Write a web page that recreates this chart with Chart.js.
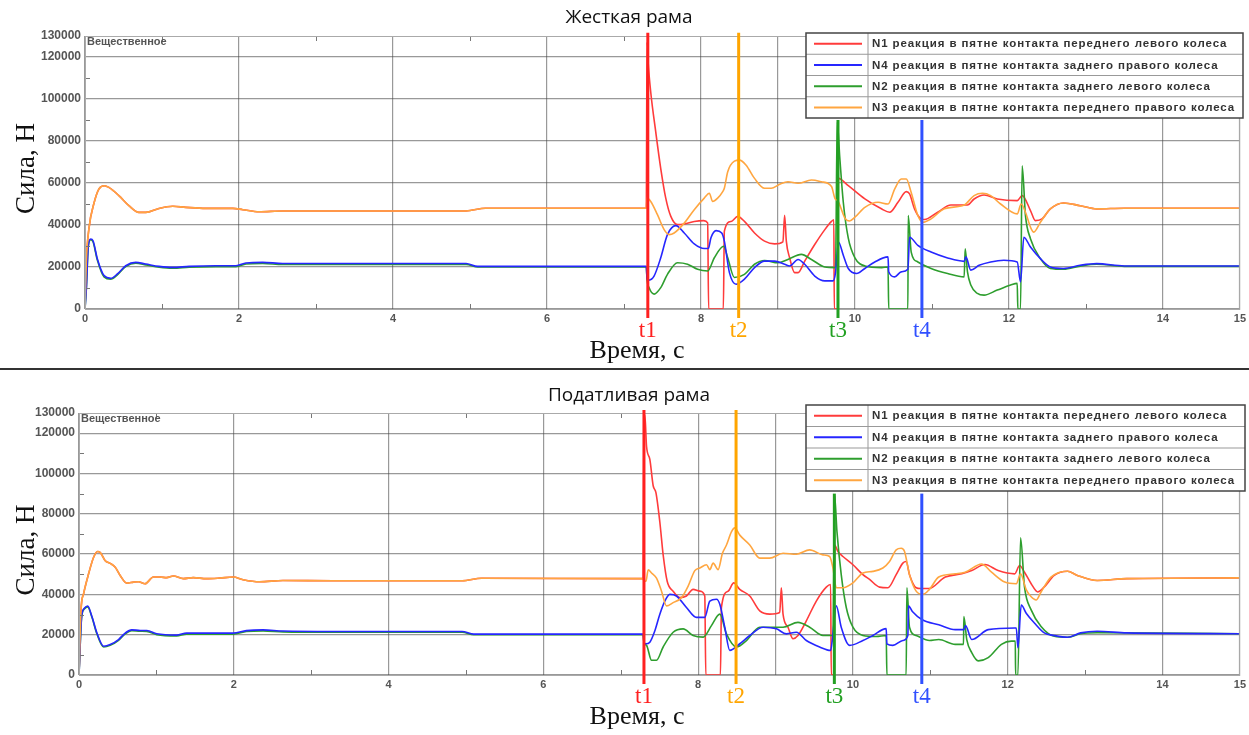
<!DOCTYPE html>
<html>
<head>
<meta charset="utf-8">
<script src="https://cdn.jsdelivr.net/npm/chart.js@4.4.1/dist/chart.umd.min.js"></script>
<style>
  body { margin: 0; background: #fff; width: 1249px; height: 735px; overflow: hidden; position: relative; }
  .box { position: absolute; left: 0; width: 1249px; }
  #sep { position: absolute; left: 0; top: 368px; width: 1249px; height: 2px; background: #333; }
</style>
</head>
<body>
<div class="box" style="top:0;height:368px"><canvas id="rigid" width="1249" height="368"></canvas></div>
<div id="sep"></div>
<div class="box" style="top:371px;height:364px"><canvas id="soft" width="1249" height="364"></canvas></div>
<script>
// legend texts and colours
var seriesNames = [
  'N1 реакция в пятне контакта переднего левого колеса',
  'N4 реакция в пятне контакта заднего правого колеса',
  'N2 реакция в пятне контакта заднего левого колеса',
  'N3 реакция в пятне контакта переднего правого колеса'
];
var seriesColors = ['#ff3b3b', '#2626ff', '#2e9e2e', '#ffa640'];

var xTicks = [0, 2, 4, 6, 8, 9, 10, 12, 14, 15];
var yTicks = [0, 20000, 40000, 60000, 80000, 100000, 120000, 130000];

var markerLabels = ['t1', 't2', 't3', 't4'];
var markerColors = ['#ff2020', '#ffa500', '#22a022', '#3050ff'];
var rigidMarkers = [7.31, 8.49, 9.78, 10.87];
var softMarkers = [7.30, 8.49, 9.76, 10.89];
var markerTops = [131500, 131500, 90000, 90000];

// ---- Жесткая рама: [время, сила] ----
var rigidFrontStart = [[0,0],[0.017,22200],[0.05,38000],[0.12,50800],[0.18,57100],[0.25,58700],[0.31,57900],[0.44,54000],[0.57,49200],[0.70,46000],[0.79,46000],[0.96,47900],[1.14,48900],[1.31,48400],[1.57,47900],[1.92,47900],[2.05,47300],[2.26,46300],[2.57,46700],[3.22,46700],[4.95,46700],[5.2,48000],[7.29,48000]];
var rigidRearStart = [[0,0],[0.017,9500],[0.043,30200],[0.074,33300],[0.104,32500],[0.161,23800],[0.247,15900],[0.334,14600],[0.421,16700],[0.529,20600],[0.659,22200],[0.790,21400],[0.963,20300],[1.137,19800],[1.354,20300],[1.701,20600],[1.961,20600],[2.091,21900],[2.308,22200],[2.568,21700],[4.95,21700],[5.1,20300],[7.29,20300]];
var rigidRearStartN2 = [[0,0],[0.017,9300],[0.043,29800],[0.074,33000],[0.104,32000],[0.161,23200],[0.247,15300],[0.334,14200],[0.421,16300],[0.529,20200],[0.659,21800],[0.790,21000],[0.963,19900],[1.137,19400],[1.354,19900],[1.701,20200],[1.961,20200],[2.091,21400],[2.308,21700],[2.568,21200],[4.95,21200],[5.1,20000],[7.29,20000]];

var rigidN1 = rigidFrontStart.concat([[7.30,127000],[7.313,118000],[7.348,103200],[7.413,84300],[7.478,66900],[7.543,52800],[7.609,44100],[7.696,40200],[7.783,40500],[7.913,41700],[8.035,42100],[8.087,41000],[8.10,0],[8.291,0],[8.304,37000],[8.391,41700],[8.478,44100],[8.565,41700],[8.696,36200],[8.826,32300],[8.957,31000],[9.065,32000],[9.087,44600],[9.109,32300],[9.152,24400],[9.217,17300],[9.261,17300],[9.348,22800],[9.478,30700],[9.609,37800],[9.696,41700],[9.726,42500],[9.732,0],[9.778,0],[9.785,62200],[9.914,58700],[10.129,52400],[10.344,47700],[10.452,46100],[10.559,50800],[10.667,55900],[10.710,54800],[10.774,47700],[10.860,42900],[10.903,42600],[11.075,46100],[11.247,49500],[11.462,49500],[11.548,52400],[11.677,54300],[11.849,52400],[12.108,51600],[12.172,54000],[12.280,46900],[12.344,42100],[12.430,42900],[12.538,47700],[12.710,50500],[12.925,49200],[13.140,47700],[13.5,48000],[15,48000]]);
var rigidN4 = rigidRearStart.concat([[7.30,14500],[7.313,13700],[7.391,15700],[7.478,24400],[7.565,35400],[7.674,39700],[7.783,36200],[7.913,31000],[8.043,28800],[8.096,28800],[8.130,33900],[8.196,37300],[8.270,36200],[8.304,32300],[8.370,17300],[8.457,11800],[8.565,14200],[8.696,19700],[8.826,22800],[8.957,22800],[9.087,21300],[9.152,20500],[9.261,23600],[9.348,21300],[9.478,15700],[9.609,13400],[9.717,13400],[9.748,17300],[9.785,31900],[9.849,25600],[9.914,19300],[10.022,16900],[10.129,19300],[10.258,22400],[10.430,24800],[10.439,17700],[10.516,15300],[10.602,17700],[10.688,18900],[10.710,34200],[10.817,30300],[10.989,27100],[11.204,24300],[11.419,22700],[11.441,24800],[11.505,18500],[11.613,20800],[11.763,22400],[11.935,23200],[12.108,22400],[12.151,12900],[12.194,34200],[12.280,29500],[12.409,24000],[12.538,20000],[12.710,19300],[12.925,20800],[13.140,21600],[13.5,20500],[15,20500]]);
var rigidN2 = rigidRearStartN2.concat([[7.30,14000],[7.326,10200],[7.391,7100],[7.478,10200],[7.565,16500],[7.696,22000],[7.826,21300],[7.957,18900],[8.087,18100],[8.174,24400],[8.296,29900],[8.348,24400],[8.435,15000],[8.565,16500],[8.696,21300],[8.826,23100],[9.0,22000],[9.130,23600],[9.304,26000],[9.435,23600],[9.609,20000],[9.748,19700],[9.770,89000],[9.804,71700],[9.848,51200],[9.913,33900],[10.0,24400],[10.130,20500],[10.348,19700],[10.430,20000],[10.439,0],[10.688,0],[10.692,44500],[10.731,27100],[10.817,22400],[10.989,19300],[11.204,16900],[11.419,15300],[11.432,28700],[11.462,17700],[11.505,11400],[11.591,7400],[11.677,6600],[11.849,9000],[12.022,11400],[12.108,12200],[12.116,0],[12.151,0],[12.172,68200],[12.215,44500],[12.280,33500],[12.409,24000],[12.538,19300],[12.710,18900],[12.925,20400],[13.140,21300],[13.5,20300],[15,20300]]);
var rigidN3 = rigidFrontStart.concat([[7.30,52800],[7.348,51200],[7.435,44900],[7.522,37800],[7.587,35400],[7.652,36200],[7.783,40900],[7.913,47300],[8.043,52800],[8.109,55100],[8.152,51200],[8.217,52800],[8.283,55900],[8.304,57500],[8.348,65400],[8.435,70400],[8.500,70900],[8.587,68500],[8.696,62200],[8.826,57500],[8.913,57500],[9.022,59400],[9.130,60600],[9.261,59900],[9.435,61400],[9.565,60600],[9.696,58300],[9.739,52800],[9.783,51200],[9.870,43300],[9.930,41900],[10.0,43700],[10.129,48400],[10.301,50800],[10.430,50000],[10.516,57100],[10.602,61900],[10.667,61900],[10.731,55500],[10.817,44500],[10.882,41300],[10.989,42900],[11.161,47700],[11.419,49500],[11.548,54000],[11.656,55100],[11.763,54000],[11.892,50000],[12.108,45300],[12.159,50000],[12.215,46100],[12.280,39000],[12.323,36600],[12.409,41300],[12.538,47700],[12.710,50500],[12.925,49200],[13.140,47700],[13.5,48000],[15,48000]]);

// ---- Податливая рама ----
var softFrontStart = [[0,0],[0.026,32200],[0.060,40400],[0.124,50200],[0.189,58400],[0.240,61300],[0.275,60800],[0.339,56700],[0.403,55400],[0.468,53500],[0.532,49400],[0.618,45600],[0.704,46100],[0.768,46300],[0.854,45300],[0.961,48600],[1.047,48600],[1.133,48300],[1.219,49100],[1.348,47800],[1.476,48300],[1.648,47800],[1.820,48100],[1.991,48600],[2.120,47300],[2.335,46300],[2.635,46900],[3.279,46800],[4.95,46800],[5.2,48000],[7.29,47800]];
var softRearStart = [[0,0],[0.034,29000],[0.069,33100],[0.112,34200],[0.167,29000],[0.232,20800],[0.318,14300],[0.403,15100],[0.511,17600],[0.597,20800],[0.682,22400],[0.790,22100],[0.876,22100],[1.004,20500],[1.262,19800],[1.391,20800],[1.991,20800],[2.163,22000],[2.378,22400],[2.635,21800],[3.279,21600],[4.95,21600],[5.1,20300],[7.29,20300]];
var softRearStartN2 = [[0,0],[0.034,28600],[0.069,32700],[0.112,33800],[0.167,28600],[0.232,20300],[0.318,13900],[0.403,14700],[0.511,17200],[0.597,20400],[0.682,22000],[0.790,21700],[0.876,21600],[1.004,20000],[1.262,19400],[1.391,20300],[1.991,20300],[2.163,21600],[2.378,21900],[2.635,21400],[3.279,21200],[4.95,21200],[5.1,20000],[7.29,20000]];

var softN1 = softFrontStart.concat([[7.30,127000],[7.312,129000],[7.333,113500],[7.376,107000],[7.419,93900],[7.454,90600],[7.505,75900],[7.548,59600],[7.600,46500],[7.677,41600],[7.763,38400],[7.849,39200],[7.935,42500],[8.022,41600],[8.086,39200],[8.099,0],[8.288,0],[8.301,33500],[8.387,41600],[8.460,45700],[8.538,42500],[8.667,39200],[8.796,31800],[8.925,30200],[9.054,31000],[9.075,43300],[9.097,30200],[9.161,23700],[9.226,18000],[9.290,19600],[9.398,26900],[9.527,36700],[9.656,43600],[9.712,44900],[9.720,0],[9.751,0],[9.763,64500],[9.806,61300],[9.871,58800],[10.0,54700],[10.129,49800],[10.215,47400],[10.344,43600],[10.452,43300],[10.559,49800],[10.645,55500],[10.688,56300],[10.731,49800],[10.817,43300],[10.874,42900],[10.981,42900],[11.194,48600],[11.407,50200],[11.535,51800],[11.706,54800],[11.876,51800],[12.090,50200],[12.154,54300],[12.217,51000],[12.303,45300],[12.388,41200],[12.473,43700],[12.601,49400],[12.772,51500],[12.900,49400],[13.156,46900],[13.539,47800],[15,48200]]);
var softN4 = softRearStart.concat([[7.30,16000],[7.325,15500],[7.376,16300],[7.441,22000],[7.505,30200],[7.570,36700],[7.634,40000],[7.720,39200],[7.849,33500],[7.978,28600],[8.086,28600],[8.151,36700],[8.237,37600],[8.280,35100],[8.344,23700],[8.409,12200],[8.538,15500],[8.667,19600],[8.839,23700],[9.011,22900],[9.140,20400],[9.269,21200],[9.398,17100],[9.570,13900],[9.712,12200],[9.733,17100],[9.785,34300],[9.849,23700],[9.957,14700],[10.129,17100],[10.258,19600],[10.430,23000],[10.439,15500],[10.516,14700],[10.645,17100],[10.710,19600],[10.718,34300],[10.768,31500],[10.896,27400],[11.109,24900],[11.322,22500],[11.433,22500],[11.455,24500],[11.535,17600],[11.748,22500],[12.090,23300],[12.111,23300],[12.132,13500],[12.175,34700],[12.239,30600],[12.345,25800],[12.473,20900],[12.601,19600],[12.772,18700],[12.942,20900],[13.156,21700],[13.539,20900],[15,20500]]);
var softN2 = softRearStartN2.concat([[7.30,16000],[7.333,14700],[7.398,7300],[7.462,7300],[7.548,13900],[7.677,21200],[7.806,22900],[7.935,19600],[8.065,18800],[8.172,24500],[8.280,30200],[8.366,20400],[8.495,13900],[8.624,17100],[8.796,23700],[8.925,23700],[9.097,23700],[9.290,26100],[9.441,23700],[9.613,19600],[9.742,19600],[9.763,89000],[9.794,71000],[9.849,49800],[9.914,33500],[10.0,23700],[10.129,19600],[10.301,19100],[10.430,19600],[10.439,0],[10.688,0],[10.697,43300],[10.731,23700],[10.817,19600],[10.989,17100],[11.109,17600],[11.322,15200],[11.429,15200],[11.433,29000],[11.471,17600],[11.535,11100],[11.620,7000],[11.748,8600],[11.919,15200],[12.047,16800],[12.098,16800],[12.102,0],[12.132,0],[12.166,68100],[12.217,43700],[12.303,32300],[12.431,24100],[12.601,19200],[12.772,18700],[12.942,20500],[13.156,21000],[15,20500]]);
var softN3 = softFrontStart.concat([[7.30,46500],[7.325,46500],[7.355,52200],[7.398,50600],[7.462,48100],[7.527,41600],[7.591,34300],[7.677,35900],[7.785,38400],[7.871,44100],[7.957,51800],[8.022,53100],[8.108,54700],[8.151,52300],[8.194,55500],[8.258,52300],[8.314,60400],[8.366,64500],[8.430,71000],[8.473,73000],[8.538,69400],[8.667,64500],[8.796,58000],[8.925,58000],[9.097,60400],[9.269,59900],[9.441,62100],[9.613,59600],[9.699,58800],[9.742,53100],[9.785,43300],[9.871,43300],[10.0,45700],[10.129,50600],[10.258,51400],[10.387,53100],[10.473,56300],[10.559,62100],[10.624,62900],[10.667,61300],[10.731,49800],[10.817,41600],[10.903,40000],[10.989,42500],[11.109,48600],[11.322,50200],[11.450,51000],[11.663,55100],[11.791,51000],[11.962,46100],[12.111,45300],[12.166,50200],[12.239,42400],[12.303,38800],[12.367,37200],[12.431,41200],[12.559,48600],[12.772,51500],[12.900,49400],[13.156,46900],[13.539,47800],[15,48200]]);

function toPoints(arr) {
  return arr.map(function (p) { return { x: p[0], y: p[1] }; });
}

// everything that is not a line: titles, legend, markers, minor ticks
var overlay = {
  id: 'overlay',
  afterDatasetsDraw: function (chart, args, o) {
    var ctx = chart.ctx, xs = chart.scales.x, ys = chart.scales.y, a = chart.chartArea;
    ctx.save();
    // minor ticks
    ctx.strokeStyle = '#777';
    ctx.lineWidth = 1;
    [1, 3, 5, 7, 11, 13].forEach(function (t) {
      var px = Math.round(xs.getPixelForValue(t)) + 0.5;
      ctx.beginPath();
      ctx.moveTo(px, a.bottom); ctx.lineTo(px, a.bottom - 5);
      ctx.moveTo(px, a.top); ctx.lineTo(px, a.top + 5);
      ctx.stroke();
    });
    [10000, 30000, 50000, 70000, 90000, 110000].forEach(function (v) {
      var py = Math.round(ys.getPixelForValue(v)) + 0.5;
      ctx.beginPath();
      ctx.moveTo(a.left, py); ctx.lineTo(a.left + 5, py);
      ctx.stroke();
    });
    // frame
    ctx.strokeStyle = '#aaa';
    ctx.strokeRect(a.left + 0.5, a.top + 0.5, a.right - a.left - 1, a.bottom - a.top);

    // event markers
    o.markers.forEach(function (t, i) {
      var px = xs.getPixelForValue(t);
      ctx.strokeStyle = markerColors[i];
      ctx.lineWidth = 3;
      ctx.beginPath();
      ctx.moveTo(px, ys.getPixelForValue(markerTops[i]));
      ctx.lineTo(px, a.bottom + 9);
      ctx.stroke();
      ctx.fillStyle = markerColors[i];
      ctx.font = '23px "Liberation Serif"';
      ctx.textAlign = 'center';
      ctx.textBaseline = 'middle';
      ctx.fillText(markerLabels[i], px, a.bottom + 22);
    });
    ctx.restore();
  },
  afterDraw: function (chart, args, o) {
    var ctx = chart.ctx, a = chart.chartArea;
    ctx.save();
    ctx.fillStyle = '#111';
    ctx.textAlign = 'center';
    ctx.textBaseline = 'middle';
    ctx.font = '19px "Open Sans"';
    ctx.fillText(o.title, 629, o.titleY);

    ctx.font = '26px "Liberation Serif"';
    ctx.fillText('Время, с', 637, a.bottom + 42);

    ctx.save();
    ctx.translate(27, (a.top + a.bottom) / 2 + o.yTitleShift);
    ctx.rotate(-Math.PI / 2);
    ctx.font = '27px "Liberation Serif"';
    ctx.fillText('Сила, Н', 0, 0);
    ctx.restore();

    ctx.textAlign = 'left';
    ctx.fillStyle = '#555';
    ctx.font = 'bold 11px "Liberation Sans"';
    ctx.fillText('Вещественное', a.left + 2, a.top + 6);

    // legend box
    var L = o.legend, rowH = (L.bottom - L.top) / 4;
    ctx.fillStyle = '#fff';
    ctx.fillRect(L.left, L.top, L.right - L.left, L.bottom - L.top);
    ctx.strokeStyle = '#999';
    ctx.lineWidth = 1;
    for (var r = 1; r < 4; r++) {
      ctx.beginPath();
      ctx.moveTo(L.left, L.top + r * rowH);
      ctx.lineTo(L.right, L.top + r * rowH);
      ctx.stroke();
    }
    ctx.beginPath();
    ctx.moveTo(L.left + 62, L.top);
    ctx.lineTo(L.left + 62, L.bottom);
    ctx.stroke();
    ctx.strokeStyle = '#444';
    ctx.lineWidth = 1.5;
    ctx.strokeRect(L.left, L.top, L.right - L.left, L.bottom - L.top);
    ctx.font = 'bold 11.5px "Liberation Sans"';
    if ('letterSpacing' in ctx) ctx.letterSpacing = '0.9px';
    for (var i = 0; i < 4; i++) {
      var cy = L.top + (i + 0.5) * rowH;
      ctx.strokeStyle = seriesColors[i];
      ctx.lineWidth = 2;
      ctx.beginPath();
      ctx.moveTo(L.left + 8, cy);
      ctx.lineTo(L.left + 56, cy);
      ctx.stroke();
      ctx.fillStyle = '#333';
      ctx.fillText(seriesNames[i], L.left + 66, cy + 0.5);
    }
    ctx.restore();
  }
};

function makeChart(id, series, cfg) {
  var canvas = document.getElementById(id);
  var W = canvas.width, H = canvas.height;
  var order = [3, 1, 2, 0];
  var datasets = series.map(function (s, i) {
    return {
      label: seriesNames[i],
      data: toPoints(s),
      borderColor: seriesColors[i],
      borderWidth: 1.6,
      pointRadius: 0,
      cubicInterpolationMode: 'monotone',
      order: order[i]
    };
  });
  return new Chart(canvas, {
    type: 'line',
    data: { datasets: datasets },
    options: {
      responsive: false,
      animation: false,
      layout: { padding: { left: 0, top: cfg.plot.top, right: W - cfg.plot.right, bottom: 0 } },
      plugins: {
        legend: { display: false },
        tooltip: { enabled: false },
        overlay: { title: cfg.title, titleY: cfg.titleY, legend: cfg.legend, markers: cfg.markers, yTitleShift: cfg.yTitleShift }
      },
      scales: {
        x: {
          type: 'linear', min: 0, max: 15,
          afterBuildTicks: function (s) { s.ticks = xTicks.map(function (v) { return { value: v }; }); },
          afterFit: function (s) { s.height = H - cfg.plot.bottom; },
          ticks: {
            autoSkip: false, maxRotation: 0, padding: 3, color: '#555',
            font: { family: 'Liberation Sans', size: 11, weight: 'bold' },
            callback: function (v) { return v === 9 ? '' : String(v); }
          },
          grid: { color: 'rgba(70,70,70,0.55)', lineWidth: 1.2, drawTicks: false },
          border: { color: '#999' }
        },
        y: {
          min: 0, max: 130000,
          afterBuildTicks: function (s) { s.ticks = yTicks.map(function (v) { return { value: v }; }); },
          afterFit: function (s) { s.width = cfg.plot.left; },
          ticks: {
            autoSkip: false, padding: 4, color: '#555',
            font: { family: 'Liberation Sans', size: 12, weight: 'bold' },
            callback: function (v) { return String(v); }
          },
          grid: {
            color: function (c) { return c.tick && c.tick.value === 130000 ? 'rgba(0,0,0,0)' : 'rgba(70,70,70,0.55)'; },
            lineWidth: 1.2, drawTicks: false
          },
          border: { color: '#999' }
        }
      }
    },
    plugins: [overlay]
  });
}

makeChart('rigid', [rigidN1, rigidN4, rigidN2, rigidN3], {
  title: 'Жесткая рама', titleY: 18, yTitleShift: -4,
  plot: { left: 85, right: 1243, top: 36, bottom: 309 },
  legend: { left: 806, right: 1243, top: 33, bottom: 118 },
  markers: rigidMarkers
});
makeChart('soft', [softN1, softN4, softN2, softN3], {
  title: 'Податливая рама', titleY: 25, yTitleShift: 6,
  plot: { left: 79, right: 1245, top: 42, bottom: 304 },
  legend: { left: 806, right: 1245, top: 34, bottom: 120 },
  markers: softMarkers
});
</script>
</body>
</html>
